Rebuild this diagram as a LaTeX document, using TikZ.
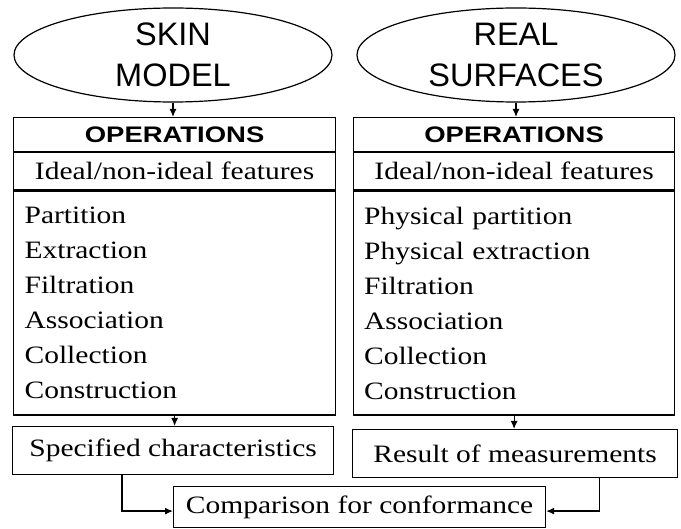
\documentclass[tikz,border=0pt]{standalone}
\usepackage{fontspec}
\setmainfont{Liberation Sans}
\newfontfamily\opsfont[FakeStretch=1.22]{Liberation Sans}
\newfontfamily\listfont[FakeStretch=1.18]{Liberation Serif}
\usetikzlibrary{positioning,shapes.geometric,arrows.meta}

\begin{document}
\begin{tikzpicture}[x=1pt,y=-1pt,line width=1.2pt,
oval/.style={draw,ellipse,minimum width=318pt,minimum height=94pt,inner sep=0pt,align=center,font=\fontsize{32.5}{41}\selectfont},
head/.style={draw,rectangle,minimum width=322pt,minimum height=34pt,inner sep=0pt,font=\opsfont\bfseries\fontsize{22.5}{25}\selectfont},
feat/.style={draw,rectangle,minimum width=322pt,minimum height=37pt,inner sep=0pt,font=\listfont\fontsize{25}{28}\selectfont},
oplist/.style={draw,rectangle,minimum width=322pt,minimum height=224pt,inner sep=0pt,text width=300pt,align=left,font=\listfont\fontsize{25}{35}\selectfont},
result/.style={draw,rectangle,minimum height=48pt,inner sep=0pt,font=\listfont\fontsize{25}{28}\selectfont},
arr/.style={-{Latex[length=8pt,width=7pt]}}]
\useasboundingbox (0,0) rectangle (681,529);

% left column
\node (skin) [oval] at (173,55) {SKIN\\MODEL};
\node (opsL) [head,anchor=north west] at (13,117) {OPERATIONS};
\node (featL) [feat,below=0pt of opsL] {Ideal/non-ideal features};
\node (listL) [oplist,below=0pt of featL] {Partition\\Extraction\\Filtration\\Association\\Collection\\Construction};
\node (spec) [result,minimum width=321pt,anchor=north west] at (12,426) {Specified characteristics};

% right column
\node (real) [oval] at (516,55) {REAL\\SURFACES};
\node (opsR) [head,minimum width=321pt,anchor=north west] at (353,117) {OPERATIONS};
\node (featR) [feat,minimum width=321pt,below=0pt of opsR] {Ideal/non-ideal features};
\node (listR) [oplist,minimum width=321pt,below=0pt of featR] {Physical partition\\Physical extraction\\Filtration\\Association\\Collection\\Construction};
\node (meas) [result,minimum width=325pt,anchor=north west] at (352,429) {Result of measurements};

\node (comp) [result,minimum width=372pt,minimum height=41pt,anchor=north west] at (173,486) {Comparison for conformance};

\draw[arr] (skin.south) -- (skin.south |- opsL.north);
\draw[arr] (real.south) -- (real.south |- opsR.north);
\draw[arr] (listL.south) -- (listL.south |- spec.north);
\draw[arr] (listR.south) -- (listR.south |- meas.north);
\draw[arr] ([xshift=110pt]spec.south west) |- ([yshift=-4pt]comp.west);
\draw[arr] ([xshift=-79pt]meas.south east) |- ([yshift=-4pt]comp.east);
\end{tikzpicture}
\end{document}
